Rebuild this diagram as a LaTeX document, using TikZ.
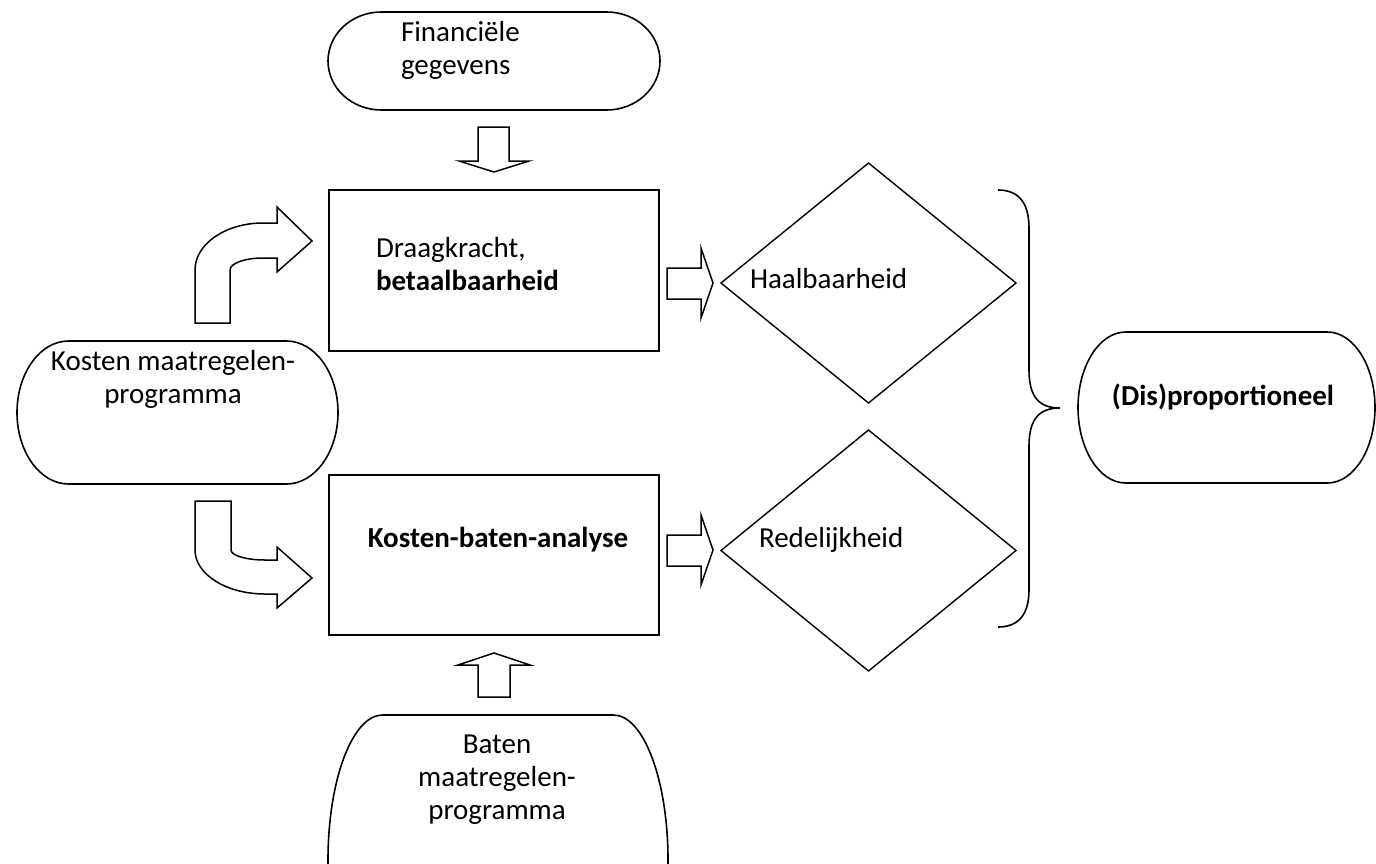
\documentclass[tikz,border=0pt]{standalone}
\usepackage{fontspec}
\setmainfont{Carlito}
\usetikzlibrary{calc,shapes.geometric}
\newcommand\terminator[5]{% name, cx, cy (down), w, h
  \pgfmathsetmacro\trx{0.1606*#4}%
  \pgfmathsetmacro\try{#5/2}%
  \node[minimum width=#4pt,minimum height=#5pt,inner sep=0pt,outer sep=0pt] (#1) at (#2,-#3) {};
  \draw[shp] ($(#1.north west)+(\trx pt,0)$) -- ($(#1.north east)-(\trx pt,0)$)
    arc[start angle=90,end angle=-90,x radius=\trx pt,y radius=\try pt]
    -- ($(#1.south west)+(\trx pt,0)$)
    arc[start angle=270,end angle=90,x radius=\trx pt,y radius=\try pt] -- cycle;
}
\begin{document}
\begin{tikzpicture}[x=1pt,y=1pt,
  shp/.style={draw=black,line width=1.6pt,line join=round},
  boxshape/.style={draw=black,line width=2pt,minimum width=330pt,minimum height=161pt,inner sep=0pt,outer sep=0pt},
  dia/.style={diamond,draw=black,line width=1.4pt,minimum width=295pt,minimum height=240pt,inner sep=0pt,outer sep=0pt},
  blockarrow/.style={draw=black,line width=1.5pt,line join=miter,fill=white},
  txt/.style={font=\fontsize{29}{33}\selectfont,inner sep=0pt,outer sep=0pt},
]
\useasboundingbox (0,0) rectangle (1376,-863);
\fill[white] (0,0) rectangle (1376,-863);
\clip (0,0) rectangle (1376,-863);

% terminators
\terminator{fin}{494}{61}{332}{98}
\terminator{kos}{177.5}{412.5}{321}{143}
\terminator{dis}{1226.5}{407.5}{297}{151}
\terminator{bat}{498}{860}{340}{290}

% boxes
\node[boxshape] (box1) at (494,-270.5) {};
\node[boxshape,minimum height=160pt] (box2) at (494,-555) {};

% diamonds
\node[dia] (d1) at (868.5,-283) {};
\node[dia,minimum height=241pt] (d2) at (868.5,-550.5) {};

% block arrows
\draw[blockarrow] (478,-127) -- (509,-127) -- (509,-161) -- (529,-161) -- (494,-172) -- (459,-161) -- (478,-161) -- cycle;
\draw[blockarrow] (478,-697) -- (510,-697) -- (510,-665) -- (530,-665) -- (494,-653) -- (458,-665) -- (478,-665) -- cycle;
\draw[blockarrow] (667,-268) -- (701,-268) -- (701,-248) -- (713,-283) -- (701,-318) -- (701,-299) -- (667,-299) -- cycle;
\draw[blockarrow] (667,-535) -- (701,-535) -- (701,-515) -- (713,-550) -- (701,-585) -- (701,-566) -- (667,-566) -- cycle;

% bent arrows
\draw[blockarrow] (195,-323) -- (195,-270)
  arc[start angle=180,end angle=90,x radius=68,y radius=47]
  -- (277,-223) -- (277,-207) -- (312,-241) -- (277,-272) -- (277,-258) -- (263,-258)
  arc[start angle=90,end angle=180,x radius=33,y radius=12]
  -- (230,-323) -- cycle;
\draw[blockarrow] (195,-501) -- (195,-550)
  arc[start angle=180,end angle=270,x radius=70,y radius=44]
  -- (277,-594) -- (277,-608) -- (312,-578) -- (277,-547) -- (277,-560) -- (265,-560)
  arc[start angle=270,end angle=180,x radius=34,y radius=10]
  -- (231,-501) -- cycle;

% brace
\draw[line width=1.6pt] (998,-190) .. controls (1018,-190) and (1029,-202) .. (1029,-228)
  -- (1029,-370) .. controls (1029,-398) and (1040,-408) .. (1060,-408)
  .. controls (1040,-408) and (1029,-418) .. (1029,-446)
  -- (1029,-590) .. controls (1029,-615) and (1018,-627) .. (998,-627);

% texts (base anchor = baseline of last line)
\node[txt,anchor=base west,align=left] (tfin) at (401,-74) {Financiële\\gegevens};
\node[txt,anchor=base,align=center] (tkos) at (173,-403) {Kosten maatregelen-\\programma};
\node[txt,anchor=base west,align=left] (tdra) at (376,-290) {Draagkracht,\\\textbf{betaalbaarheid}};
\node[txt,anchor=base] (tkba) at (498,-547) {\textbf{Kosten-baten-analyse}};
\node[txt,anchor=base west] (thaal) at (750,-288) {Haalbaarheid};
\node[txt,anchor=base west] (tred) at (759,-547) {Redelijkheid};
\node[txt,anchor=base] (tdis) at (1223,-405) {\textbf{(Dis)proportioneel}};
\node[txt,anchor=base,align=center] (tbat) at (497,-819) {Baten\\maatregelen-\\programma};
\end{tikzpicture}
\end{document}
